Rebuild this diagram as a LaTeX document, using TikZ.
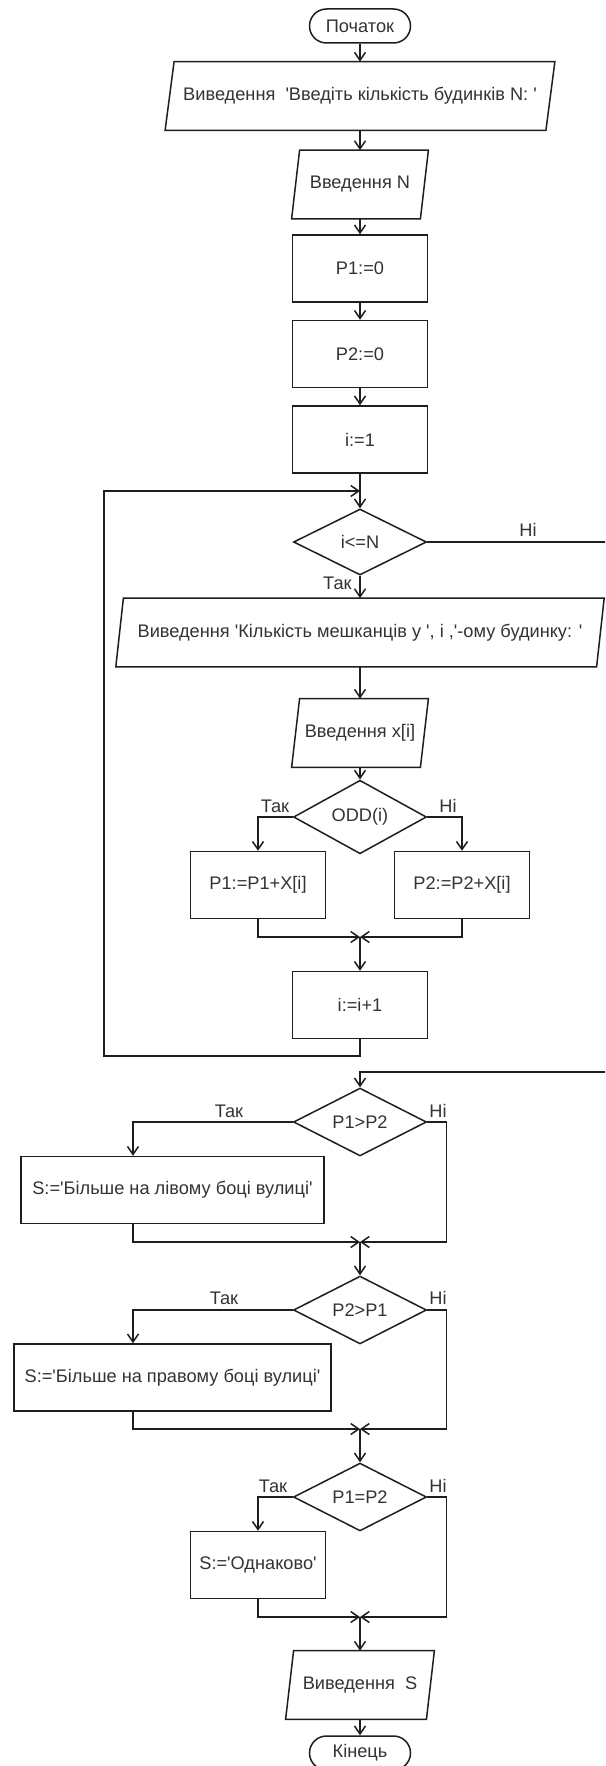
\documentclass[tikz,border=0pt]{standalone}
\usepackage{fontspec}
\setmainfont{Liberation Sans}[Ligatures=TeXOff]
\usetikzlibrary{shapes.geometric,arrows.meta}
\definecolor{ln}{HTML}{1E1E1E}
\definecolor{txt}{HTML}{333333}
\newcommand\ioframe[2]{\draw[line] ([xshift=#2]#1.north west) -- ([xshift=#2]#1.north east) -- ([xshift=-#2]#1.south east) -- ([xshift=-#2]#1.south west) -- cycle;}
\begin{document}
\begin{tikzpicture}[x=0.5pt,y=-0.5pt,
  every node/.style={font=\fontsize{9.1}{11}\selectfont, text=txt},
  line/.style={draw=ln, line width=0.75pt},
  arr/.style={line, -{Straight Barb[length=4pt,width=5.5pt]}},
  term/.style={line, rectangle, rounded corners=8.5pt, minimum width=50.5pt, minimum height=17pt, inner sep=0pt},
  proc/.style={line, rectangle, minimum height=33.5pt, inner sep=0pt},
  io/.style={rectangle, minimum height=34pt, inner sep=0pt},
  dec/.style={line, diamond, minimum width=66.5pt, minimum height=33pt, inner sep=0pt},
  lbl/.style={inner sep=0pt}
]
\fill[white] (0,0) rectangle (605,1766);
\clip (0,0) rectangle (605,1766);

% nodes
\node[term] (start) at (360,26) {Початок};
\node[io, minimum width=190pt] (out1) at (360,96) {Виведення \ 'Введіть кількість будинків N: '};
\ioframe{out1}{2.25pt}
\node[io, minimum width=64pt] (inN) at (360,184.5) {Введення N};
\ioframe{inN}{2pt}
\node[proc, minimum width=67.5pt] (p1) at (360,268.5) {P1:=0};
\node[proc, minimum width=67.5pt] (p2) at (360,354) {P2:=0};
\node[proc, minimum width=67.5pt] (i1) at (360,439.5) {i:=1};
\coordinate (j1) at (360,491);
\node[dec] (c1) at (360,542) {i<=N};
\node[io, minimum width=240pt] (out2) at (360,632.5) {Виведення 'Кількість мешканців у ', i ,'-ому будинку: '};
\ioframe{out2}{1.9pt}
\node[io, minimum width=64pt] (inx) at (360,733) {Введення x[i]};
\ioframe{inx}{2pt}
\node[dec] (odd) at (360,817) {ODD(i)};
\node[proc, minimum width=67.5pt] (pa) at (258,885) {P1:=P1+X[i]};
\node[proc, minimum width=67.5pt] (pb) at (462,885) {P2:=P2+X[i]};
\coordinate (j2) at (360,937);
\node[proc, minimum width=67.5pt] (inc) at (360,1005) {i:=i+1};
\coordinate (lb1) at (360,1056);
\coordinate (lb2) at (104,1056);
\coordinate (lb3) at (104,491);
\coordinate (r1) at (625,542);
\coordinate (r2) at (625,1072);
\coordinate (j3) at (360,1072);
\node[dec] (c2) at (360,1122) {P1>P2};
\node[proc, minimum width=151.5pt] (b1) at (172.5,1190) {S:='Більше на лівому боці вулиці'};
\coordinate (j4) at (360,1242);
\node[dec] (c3) at (360,1310) {P2>P1};
\node[proc, minimum width=158.5pt] (b2) at (172.5,1377.5) {S:='Більше на правому боці вулиці'};
\coordinate (j5) at (360,1429);
\node[dec] (c4) at (360,1497) {P1=P2};
\node[proc, minimum width=67.5pt] (b3) at (258,1565) {S:='Однаково'};
\coordinate (j6) at (360,1617);
\node[io, minimum width=70pt] (outS) at (360,1685) {Виведення \ S};
\ioframe{outS}{2pt}
\node[term] (end) at (360,1753) {Кінець};

% labels
\node[lbl, anchor=east] (l1) at (352,583) {Так};
\node[lbl] (l2) at (528,530) {Ні};
\node[lbl] (l3) at (275,806) {Так};
\node[lbl] (l4) at (448,806) {Ні};
\node[lbl] (l5) at (229,1111) {Так};
\node[lbl] (l6) at (438,1111) {Ні};
\node[lbl] (l7) at (224,1298) {Так};
\node[lbl] (l8) at (438,1298) {Ні};
\node[lbl] (l9) at (273,1486) {Так};
\node[lbl] (l10) at (438,1486) {Ні};

% connectors
\draw[arr] (start) -- (out1);
\draw[arr] (out1) -- (inN);
\draw[arr] (inN) -- (p1);
\draw[arr] (p1) -- (p2);
\draw[arr] (p2) -- (i1);
\draw[line] (i1.south) -- (j1);
\draw[arr] (j1) -- (c1.north);
\draw[arr] (c1.south) -- (out2.north);
\draw[arr] (out2) -- (inx);
\draw[arr] (inx) -- (odd);
\draw[arr] (odd.west) -| (pa.north);
\draw[arr] (odd.east) -| (pb.north);
\draw[arr] (pa.south) |- (j2);
\draw[arr] (pb.south) |- (j2);
\draw[arr] (j2) -- (inc.north);
\draw[arr] (inc.south) -- (lb1) -- (lb2) -- (lb3) -- (j1);
\draw[arr] (c1.east) -- (r1) -- (r2) -- (j3) -- (c2.north);
\draw[arr] (c2.west) -| ([xshift=-19.75pt]b1.north);
\draw[arr] (c2.east) -- ++(19,0) |- (j4);
\draw[arr] ([xshift=-19.75pt]b1.south) |- (j4);
\draw[arr] (j4) -- (c3.north);
\draw[arr] (c3.west) -| ([xshift=-19.75pt]b2.north);
\draw[arr] (c3.east) -- ++(19,0) |- (j5);
\draw[arr] ([xshift=-19.75pt]b2.south) |- (j5);
\draw[arr] (j5) -- (c4.north);
\draw[arr] (c4.west) -| (b3.north);
\draw[arr] (c4.east) -- ++(19,0) |- (j6);
\draw[arr] (b3.south) |- (j6);
\draw[arr] (j6) -- (outS.north);
\draw[arr] (outS) -- (end);
\end{tikzpicture}
\end{document}
